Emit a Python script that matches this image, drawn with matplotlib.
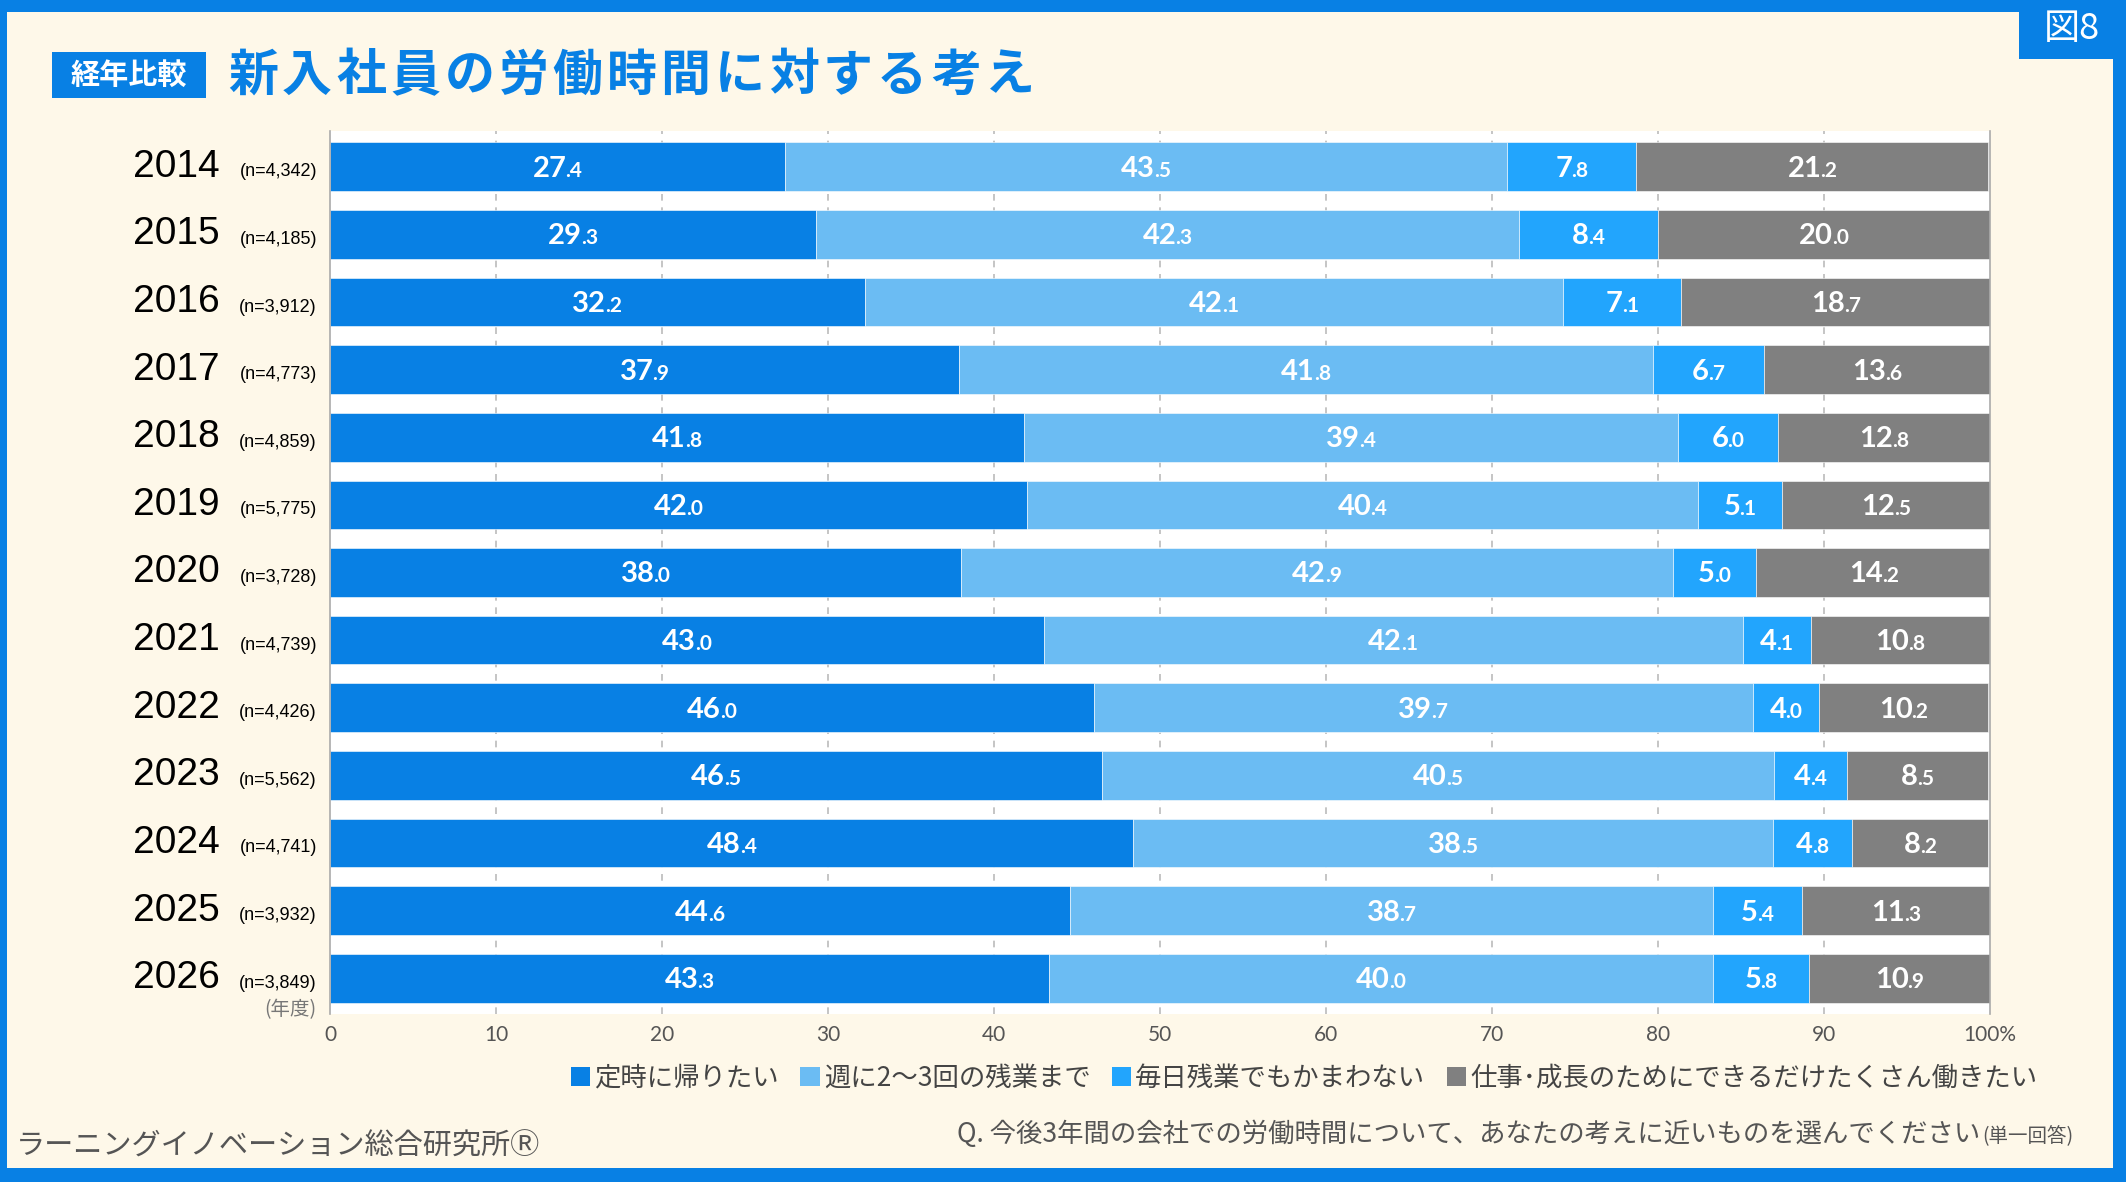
import matplotlib
matplotlib.use("Agg")
import matplotlib.pyplot as plt
from matplotlib.patches import Rectangle, Patch
from matplotlib.transforms import offset_copy
import numpy as np

years = ["2014", "2015", "2016", "2017", "2018", "2019", "2020", "2021", "2022", "2023", "2024", "2025", "2026"]
n_labels = ["(n=4,342)", "(n=4,185)", "(n=3,912)", "(n=4,773)", "(n=4,859)", "(n=5,775)", "(n=3,728)",
            "(n=4,739)", "(n=4,426)", "(n=5,562)", "(n=4,741)", "(n=3,932)", "(n=3,849)"]
teiji = [27.4, 29.3, 32.2, 37.9, 41.8, 42.0, 38.0, 43.0, 46.0, 46.5, 48.4, 44.6, 43.3]
shu23 = [43.5, 42.3, 42.1, 41.8, 39.4, 40.4, 42.9, 42.1, 39.7, 40.5, 38.5, 38.7, 40.0]
mainichi = [7.8, 8.4, 7.1, 6.7, 6.0, 5.1, 5.0, 4.1, 4.0, 4.4, 4.8, 5.4, 5.8]
takusan = [21.2, 20.0, 18.7, 13.6, 12.8, 12.5, 14.2, 10.8, 10.2, 8.5, 8.2, 11.3, 10.9]
series_names = ["定時に帰りたい", "週に2～3回の残業まで", "毎日残業でもかまわない", "仕事･成長のためにできるだけたくさん働きたい"]
xticks = [0, 10, 20, 30, 40, 50, 60, 70, 80, 90, 100]
xticklabels = ["0", "10", "20", "30", "40", "50", "60", "70", "80", "90", "100%"]
title = "新入社員の労働時間に対する考え"

colors = ["#0880E4", "#6BBCF3", "#22A5FD", "#808080"]
BLUE = "#0880E4"
BG = "#FEF8E9"

plt.rcParams['font.family'] = ['Noto Sans CJK JP', 'DejaVu Sans']

W, H = 2126, 1182
fig = plt.figure(figsize=(W / 100, H / 100), dpi=100)
fig.patch.set_facecolor(BLUE)

def fx(px):
    return px / W

def fy(py):
    return 1 - py / H

# cream inner panel
fig.patches.append(Rectangle((fx(7), fy(1168)), fx(2113) - fx(7), fy(12) - fy(1168),
                             transform=fig.transFigure, facecolor=BG, edgecolor="none", zorder=-10))
# badge top-right
fig.patches.append(Rectangle((fx(2019), fy(59)), fx(2126) - fx(2019), fy(0) - fy(59),
                             transform=fig.transFigure, facecolor=BLUE, edgecolor="none", zorder=-5))
fig.text(fx(2072), fy(29), "図8", color="white", fontsize=26, ha="center", va="center", zorder=2)

# title box
fig.patches.append(Rectangle((fx(52), fy(98)), fx(206) - fx(52), fy(52) - fy(98),
                             transform=fig.transFigure, facecolor=BLUE, edgecolor="none", zorder=-5))
fig.text(fx(129), fy(75), "経年比較", color="white", fontsize=21, fontweight="bold",
         ha="center", va="center", zorder=2)
adv = (1037 - 226) / len(title)
for k, ch in enumerate(title):
    fig.text(fx(226 + adv * (k + 0.5)), fy(76), ch, color=BLUE, fontsize=36, fontweight="bold",
             ha="center", va="center", zorder=2)

# axes
ax = fig.add_axes([fx(330), fy(1014), fx(1990) - fx(330), fy(131) - fy(1014)], zorder=1)
ax.set_facecolor("white")
n = len(years)
y = np.arange(n)
data = [teiji, shu23, mainichi, takusan]
left = np.zeros(n)
bars_all = []
for vals, c, name in zip(data, colors, series_names):
    v = np.array(vals)
    bars = ax.barh(y, v, left=left, height=0.72, color=c, edgecolor="white", linewidth=0.4,
                   label=name, zorder=2)
    bars_all.append((bars, v, left.copy()))
    left = left + v

ax.set_xlim(0, 100)
ax.set_ylim(n - 0.47, -0.53)
ax.set_xticks(xticks)
ax.set_xticklabels(xticklabels, fontsize=15, color="#555555", family=["Lato", "DejaVu Sans"])
ax.tick_params(axis="x", length=0, pad=8)
ax.set_yticks([])
for x in xticks[1:-1]:
    ax.axvline(x, color="#BBBBBB", linewidth=1.2, linestyle=(0, (4, 4)), zorder=1)
for s in ["top", "bottom"]:
    ax.spines[s].set_visible(False)
ax.spines["left"].set_color("#AAAAAA")
ax.spines["right"].set_color("#AAAAAA")
ax.spines["left"].set_linewidth(1.2)
ax.spines["right"].set_linewidth(1.2)

# year labels
for i in range(n):
    ax.annotate(years[i], xy=(0, i), xycoords=("axes fraction", "data"), xytext=(-110, 0),
                textcoords="offset pixels", ha="right", va="center", fontsize=28,
                color="black", family=["Liberation Sans", "DejaVu Sans"])
    ax.annotate(n_labels[i], xy=(0, i), xycoords=("axes fraction", "data"), xytext=(-13, -5),
                textcoords="offset pixels", ha="right", va="center", fontsize=13,
                color="black", family=["Liberation Sans", "DejaVu Sans"])
ax.annotate("(年度)", xy=(0, n - 1), xycoords=("axes fraction", "data"), xytext=(-14, -31),
            textcoords="offset pixels", ha="right", va="center", fontsize=14, color="#777777")

# value labels with smaller decimal part
lab_font = ["Lato", "DejaVu Sans"]
pairs = []
for bars, v, l in bars_all:
    for i in range(n):
        cx = l[i] + v[i] / 2
        s = f"{v[i]:.1f}"
        ip, dp = s.split(".")
        t1 = ax.text(cx, i, ip, color="white", fontsize=21, fontweight="bold", ha="left",
                     va="baseline", family=lab_font, zorder=3)
        t2 = ax.text(cx, i, "." + dp, color="white", fontsize=15, fontweight="bold", ha="left",
                     va="baseline", family=lab_font, zorder=3)
        pairs.append((t1, t2))

fig.canvas.draw()
r = fig.canvas.get_renderer()
for t1, t2 in pairs:
    w1 = t1.get_window_extent(r).width
    w2 = t2.get_window_extent(r).width
    gap = -1
    start = -(w1 + w2 + gap) / 2
    t1.set_transform(offset_copy(ax.transData, fig=fig, x=start, y=-10, units="dots"))
    t2.set_transform(offset_copy(ax.transData, fig=fig, x=start + w1 + gap, y=-10, units="dots"))

# legend
handles = [Patch(facecolor=c, edgecolor="none") for c in colors]
leg = fig.legend(handles, series_names, loc="center", bbox_to_anchor=(fx(1304), fy(1078)),
                 ncol=4, frameon=False, fontsize=19, handlelength=0.75, handleheight=0.75,
                 handletextpad=0.15, columnspacing=0.8, labelcolor="#444444")

# footer texts
fig.text(fx(16), fy(1147), "ラーニングイノベーション総合研究所Ⓡ", color="#555555", fontsize=21,
         ha="left", va="center")
fig.text(fx(1980), fy(1134), "Q. 今後3年間の会社での労働時間について、あなたの考えに近いものを選んでください",
         color="#555555", fontsize=19, ha="right", va="center")
fig.text(fx(1982), fy(1137), "(単一回答)", color="#555555", fontsize=14, ha="left", va="center")

fig.savefig("out.png", dpi=100, facecolor=fig.get_facecolor())
